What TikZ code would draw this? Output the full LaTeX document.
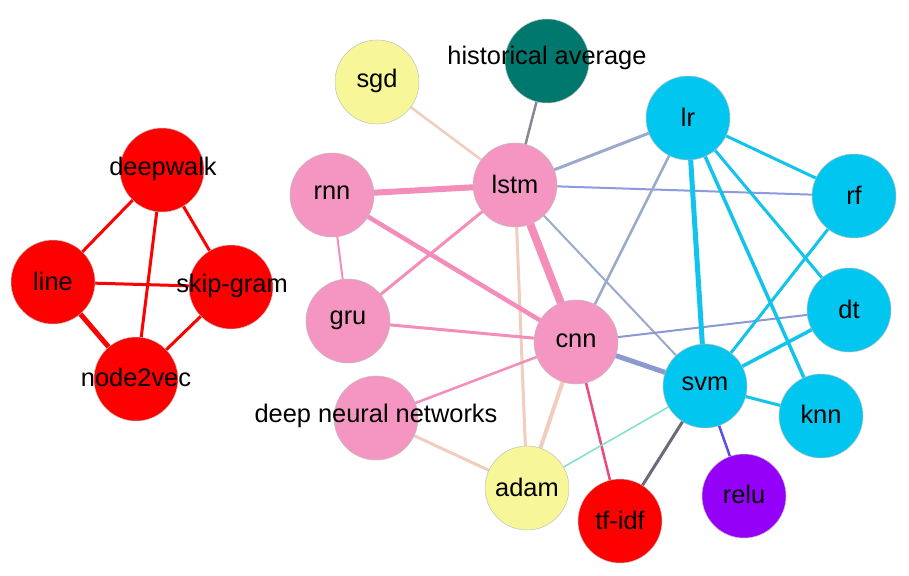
\documentclass[tikz,border=0pt]{standalone}
\usepackage{fontspec}
\setmainfont{Liberation Sans}
\definecolor{cred}{HTML}{FF0000}
\definecolor{cpink}{HTML}{F495C2}
\definecolor{cyel}{HTML}{F7F79A}
\definecolor{cteal}{HTML}{00786E}
\definecolor{ccyan}{HTML}{00C6F0}
\definecolor{cpurp}{HTML}{9400F8}
\definecolor{epink}{HTML}{F48DBA}
\definecolor{epeach}{HTML}{F0CDBE}
\definecolor{egray}{HTML}{9AAACC}
\definecolor{eblue}{HTML}{8C9BE0}
\definecolor{ecyan}{HTML}{12C4EC}
\definecolor{edark}{HTML}{6A6A78}
\definecolor{erose}{HTML}{EC4A7C}
\definecolor{eaqua}{HTML}{7EE2C8}
\definecolor{eviol}{HTML}{5A50E6}
\begin{document}
\begin{tikzpicture}[x=1pt,y=-1pt,
  nd/.style={circle,minimum size=84pt,inner sep=0pt,draw=black!25,line width=0.5pt},
  lab/.style={font=\fontsize{25.4}{30}\selectfont,inner sep=0pt},
  ed/.style={line width=#1},
  ed/.default=2.5pt]
\useasboundingbox (0,0) rectangle (909,575);
\fill[white] (0,0) rectangle (909,575);
% node positions
\coordinate (deepwalk) at (162,170);
\coordinate (line) at (53,282);
\coordinate (skip) at (231,287);
\coordinate (node2vec) at (136,379);
\coordinate (sgd) at (377,82);
\coordinate (hist) at (547,61);
\coordinate (lstm) at (515,185);
\coordinate (rnn) at (332,195);
\coordinate (gru) at (348,321);
\coordinate (cnn) at (576,342);
\coordinate (dnn) at (376,418);
\coordinate (adam) at (527,488);
\coordinate (tfidf) at (620,521);
\coordinate (relu) at (744,496);
\coordinate (svm) at (705,386);
\coordinate (knn) at (821,416);
\coordinate (dt) at (849,310);
\coordinate (rf) at (854,196);
\coordinate (lr) at (688,118);
% edges
\begin{scope}[line cap=round]
\draw[cred,ed=3pt] (deepwalk) -- (line);
\draw[cred,ed=3pt] (deepwalk) -- (skip);
\draw[cred,ed=3pt] (deepwalk) -- (node2vec);
\draw[cred,ed=3pt] (line) -- (skip);
\draw[cred,ed=5pt] (line) -- (node2vec);
\draw[cred,ed=3pt] (skip) -- (node2vec);
\draw[epeach,ed=2.5pt] (sgd) -- (lstm);
\draw[edark!80,ed=2.5pt] (hist) -- (lstm);
\draw[egray,ed=3pt] (lstm) -- (lr);
\draw[eblue,ed=2pt] (lstm) -- (rf);
\draw[egray,ed=2pt] (lstm) -- (svm);
\draw[epink,ed=6pt] (lstm) -- (rnn);
\draw[epink,ed=3pt] (lstm) -- (gru);
\draw[epink,ed=8pt] (lstm) -- (cnn);
\draw[epeach,ed=3pt] (lstm) -- (adam);
\draw[epink,ed=2pt] (rnn) -- (gru);
\draw[epink,ed=4.5pt] (rnn) -- (cnn);
\draw[epink,ed=3pt] (gru) -- (cnn);
\draw[epink,ed=2.5pt] (dnn) -- (cnn);
\draw[epeach,ed=3pt] (dnn) -- (adam);
\draw[epeach,ed=4pt] (cnn) -- (adam);
\draw[erose,ed=2.5pt] (cnn) -- (tfidf);
\draw[egray,ed=2.5pt] (cnn) -- (lr);
\draw[eblue!90!gray,ed=2pt] (cnn) -- (dt);
\draw[egray!90!blue,ed=5pt] (cnn) -- (svm);
\draw[eaqua,ed=1.5pt] (adam) -- (svm);
\draw[edark,ed=3pt] (tfidf) -- (svm);
\draw[eviol,ed=2.5pt] (svm) -- (relu);
\draw[ecyan,ed=5pt] (lr) -- (svm);
\draw[ecyan,ed=3pt] (lr) -- (rf);
\draw[ecyan,ed=3pt] (lr) -- (dt);
\draw[ecyan,ed=3.5pt] (lr) -- (knn);
\draw[ecyan,ed=3pt] (rf) -- (svm);
\draw[ecyan,ed=3.5pt] (dt) -- (svm);
\draw[ecyan,ed=3pt] (svm) -- (knn);
\end{scope}
% node circles
\node[nd,fill=cred] (n-deepwalk) at (deepwalk) {};
\node[nd,fill=cred] (n-line) at (line) {};
\node[nd,fill=cred] (n-skip) at (skip) {};
\node[nd,fill=cred] (n-node2vec) at (node2vec) {};
\node[nd,fill=cyel] (n-sgd) at (sgd) {};
\node[nd,fill=cteal] (n-hist) at (hist) {};
\node[nd,fill=cpink] (n-lstm) at (lstm) {};
\node[nd,fill=cpink] (n-rnn) at (rnn) {};
\node[nd,fill=cpink] (n-gru) at (gru) {};
\node[nd,fill=cpink] (n-cnn) at (cnn) {};
\node[nd,fill=cpink] (n-dnn) at (dnn) {};
\node[nd,fill=cyel] (n-adam) at (adam) {};
\node[nd,fill=cred] (n-tfidf) at (tfidf) {};
\node[nd,fill=cpurp] (n-relu) at (relu) {};
\node[nd,fill=ccyan] (n-svm) at (svm) {};
\node[nd,fill=ccyan] (n-knn) at (knn) {};
\node[nd,fill=ccyan] (n-dt) at (dt) {};
\node[nd,fill=ccyan] (n-rf) at (rf) {};
\node[nd,fill=ccyan] (n-lr) at (lr) {};
% labels
\node[lab] (t-deepwalk) at (163,169) {deepwalk};
\node[lab] (t-line) at (53,281) {line};
\node[lab] (t-skip) at (232,286) {skip-gram};
\node[lab] (t-node2vec) at (136,377) {node2vec};
\node[lab] (t-sgd) at (377,81) {sgd};
\node[lab] (t-hist) at (547,58) {historical average};
\node[lab] (t-lstm) at (515,184) {lstm};
\node[lab] (t-rnn) at (332,193) {rnn};
\node[lab] (t-gru) at (348,320) {gru};
\node[lab] (t-cnn) at (576,341) {cnn};
\node[lab] (t-dnn) at (376,416) {deep neural networks};
\node[lab] (t-adam) at (527,487) {adam};
\node[lab] (t-tfidf) at (620,520) {tf-idf};
\node[lab] (t-relu) at (744,494) {relu};
\node[lab] (t-svm) at (705,384) {svm};
\node[lab] (t-knn) at (821,414) {knn};
\node[lab] (t-dt) at (849,309) {dt};
\node[lab] (t-rf) at (854,195) {rf};
\node[lab] (t-lr) at (688,117) {lr};
\end{tikzpicture}
\end{document}
